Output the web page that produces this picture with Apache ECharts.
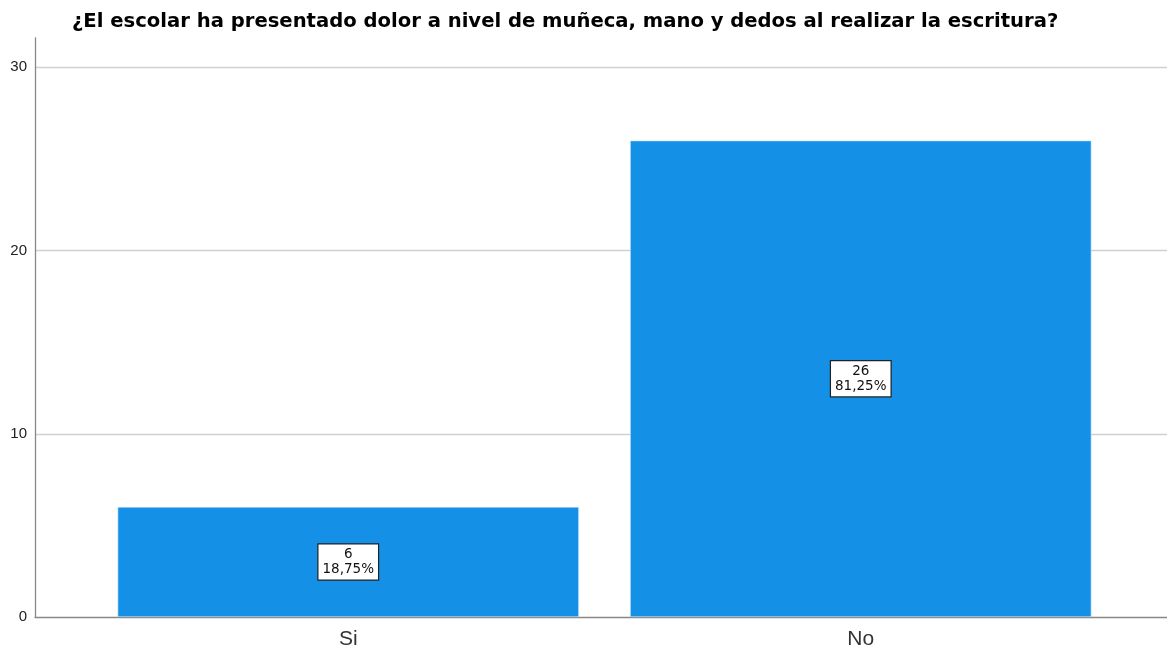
<!DOCTYPE html>
<html>
<head>
<meta charset="utf-8">
<script src="https://cdn.jsdelivr.net/npm/echarts@6/dist/echarts.min.js"></script>
<style>
  html, body { margin: 0; padding: 0; background: #fff; }
  #chart { width: 1167px; height: 654px; }
</style>
</head>
<body>
<div id="chart"></div>
<script>
// Survey answers and their counts
const categories = ['Si', 'No'];
const counts = [6, 26];
const yTicks = [0, 10, 20, 30];
const titleText = '¿El escolar ha presentado dolor a nivel de muñeca, mano y dedos al realizar la escritura?';

const total = counts.reduce((a, b) => a + b, 0);
const pct = v => (v / total * 100).toFixed(2).replace('.', ',') + '%';

const Y_MAX = 31.6;
const FONT = '"Liberation Sans", Arial, sans-serif';
const WIDE = '"DejaVu Sans", Verdana, sans-serif';

const chart = echarts.init(document.getElementById('chart'), null, { renderer: 'canvas' });

chart.setOption({
  animation: false,
  backgroundColor: '#ffffff',
  textStyle: { fontFamily: FONT },
  title: {
    text: titleText,
    left: 67,
    top: 7,
    textStyle: { fontFamily: WIDE, fontSize: 19.6, fontWeight: 'bold', color: '#000' }
  },
  grid: [
    // frame: y axis, gridlines and baseline across the full width
    { left: 35, right: 0, top: 38, bottom: 37, containLabel: false },
    // bars
    { left: 92, right: 50, top: 38, bottom: 37, containLabel: false }
  ],
  xAxis: [
    {
      type: 'value', gridIndex: 0, min: 0, max: 1,
      axisLine: { show: true, onZero: false, lineStyle: { color: '#888', width: 1.3 } },
      axisTick: { show: false }, axisLabel: { show: false }, splitLine: { show: false }
    },
    {
      type: 'category', gridIndex: 1, data: categories,
      axisLine: { show: false }, axisTick: { show: false },
      axisLabel: { margin: 12, fontSize: 21, color: '#333', fontFamily: FONT }
    }
  ],
  yAxis: [
    {
      type: 'value', gridIndex: 0, min: 0, max: Y_MAX, interval: 10,
      axisLine: { show: true, lineStyle: { color: '#888', width: 1.3 } },
      axisTick: { show: false },
      axisLabel: {
        margin: 8, fontSize: 15, color: '#222', fontFamily: FONT,
        padding: [4, 0, 0, 0],
        showMaxLabel: false,
        formatter: v => (yTicks.includes(v) ? String(v) : '')
      },
      splitLine: { show: true, showMinLine: false, showMaxLine: false, lineStyle: { color: '#d0d0d0', width: 1.3 } }
    },
    {
      type: 'value', gridIndex: 1, min: 0, max: Y_MAX, interval: 10, show: false,
      splitLine: { show: false }
    }
  ],
  series: [
    {
      type: 'bar',
      xAxisIndex: 1, yAxisIndex: 1,
      data: counts,
      barWidth: '90%',
      itemStyle: { color: '#1491e6', borderColor: '#bfe2fb', borderWidth: 0.6 },
      label: {
        show: true,
        position: 'inside',
        formatter: p => String(p.value) + '\n' + pct(p.value),
        color: '#111',
        fontFamily: WIDE,
        fontSize: 13.5,
        lineHeight: 15,
        align: 'center',
        backgroundColor: '#ffffff',
        borderColor: '#222',
        borderWidth: 1.2,
        padding: [3, 4, 2, 4]
      }
    }
  ]
});
</script>
</body>
</html>
